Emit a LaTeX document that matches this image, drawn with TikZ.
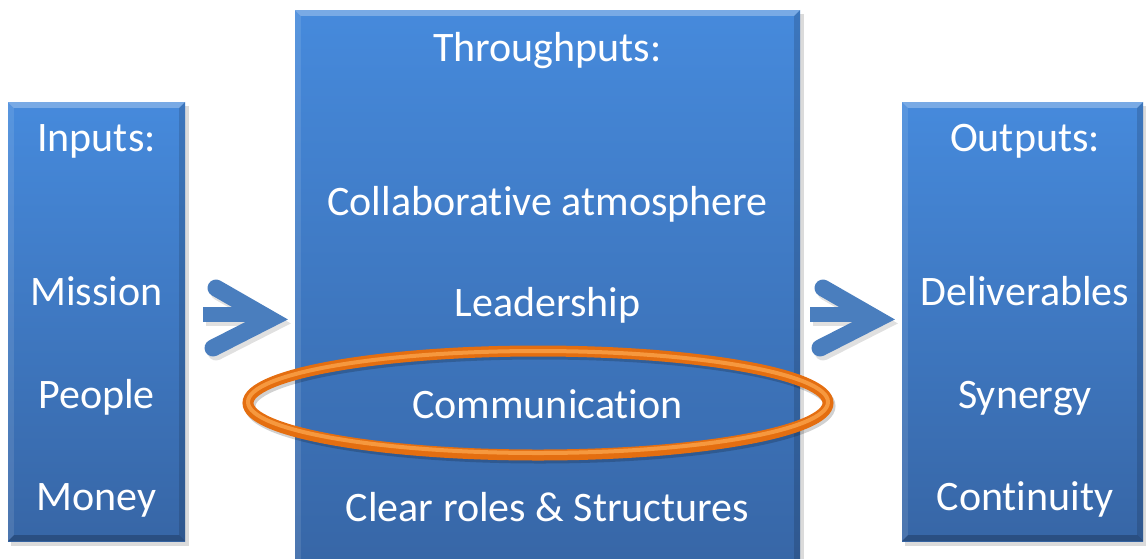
\documentclass[tikz,border=0pt]{standalone}
\usepackage{fontspec}
\setmainfont{Carlito}[Ligatures={NoCommon,NoContextual}]
\usetikzlibrary{calc}
\definecolor{boxtop}{RGB}{70,138,220}
\definecolor{boxbot}{RGB}{55,102,166}
\definecolor{arrowblue}{RGB}{74,126,190}
\definecolor{ringdark}{RGB}{228,110,16}
\definecolor{ringlight}{RGB}{246,152,62}
\tikzset{
  panel/.style={rectangle, inner sep=0pt, draw=none, top color=boxtop, bottom color=boxbot},
  lbl/.style={text=white, font=\fontsize{42}{50}\selectfont, anchor=base, inner sep=0pt},
  chevron/.style={draw=arrowblue, line width=17pt, line cap=round, line join=miter},
}
\newcommand{\bevel}[1]{%
  \fill[white, opacity=0.28] (#1.north west) -- (#1.north east) -- ($(#1.north east)+(-6,6)$) -- ($(#1.north west)+(6,6)$) -- cycle;
  \fill[white, opacity=0.10] (#1.north west) -- ($(#1.north west)+(6,6)$) -- ($(#1.south west)+(6,-6)$) -- (#1.south west) -- cycle;
  \fill[black, opacity=0.14] (#1.north east) -- ($(#1.north east)+(-6,6)$) -- ($(#1.south east)+(-6,-6)$) -- (#1.south east) -- cycle;
  \fill[black, opacity=0.22] (#1.south west) -- ($(#1.south west)+(6,-6)$) -- ($(#1.south east)+(-6,-6)$) -- (#1.south east) -- cycle;
}
\begin{document}
\begin{tikzpicture}[x=1pt,y=-1pt]
\useasboundingbox (0,0) rectangle (1148,558);
% shadows of boxes
\fill[black!14] (11,106) rectangle (189,546);
\fill[black!14] (298,14) rectangle (804,570);
\fill[black!14] (905,106) rectangle (1146,546);
% boxes
\node[panel, minimum width=177pt, minimum height=439pt] (in) at (96.5,321.5) {};
\node[panel, minimum width=505pt, minimum height=560pt] (thr) at (547.5,290) {};
\node[panel, minimum width=241pt, minimum height=439pt] (out) at (1022.5,321.5) {};
\bevel{in}
\bevel{thr}
\bevel{out}
% arrows
\begin{scope}
  \fill[black!12] (206,311) rectangle (264,326);
  \draw[chevron, black!12] (219,292) -- (273,323) -- (216,352);
  \fill[arrowblue] (203,307) rectangle (262,322);
  \draw[chevron] (216,288) -- (270,319) -- (213,348);
\end{scope}
\begin{scope}[xshift=607pt]
  \fill[black!12] (206,311) rectangle (264,326);
  \draw[chevron, black!12] (219,292) -- (273,323) -- (216,352);
  \fill[arrowblue] (203,307) rectangle (262,322);
  \draw[chevron] (216,288) -- (270,319) -- (213,348);
\end{scope}
% texts
\node[lbl] (tin) at (96.5,151) {Inputs:};
\node[lbl] (t1) at (96.5,305) {Mission};
\node[lbl] (t2) at (96.5,408) {People};
\node[lbl] (t3) at (96.5,510) {Money};
\node[lbl] (tth) at (547.5,61) {Throughputs:};
\node[lbl] (m1) at (547.5,215) {Collaborat\kern0pt ive atmosphere};
\node[lbl] (m2) at (547.5,316) {Leadership};
\node[lbl] (m3) at (547.5,418) {Communicat\kern0pt ion};
\node[lbl] (m4) at (547.5,521) {Clear roles \& Structures};
\node[lbl] (tout) at (1025,151) {Outputs:};
\node[lbl] (o1) at (1025,305) {Deliverables};
\node[lbl] (o2) at (1025,408) {Synergy};
\node[lbl] (o3) at (1025,510) {Continuity};
% highlight ring
\draw[black, opacity=0.18, line width=11pt] (540,406) ellipse [x radius=290, y radius=52];
\draw[ringdark, line width=11pt] (538,403) ellipse [x radius=290, y radius=52];
\draw[ringlight, line width=4pt] (538,402) ellipse [x radius=290, y radius=51];
\end{tikzpicture}
\end{document}
